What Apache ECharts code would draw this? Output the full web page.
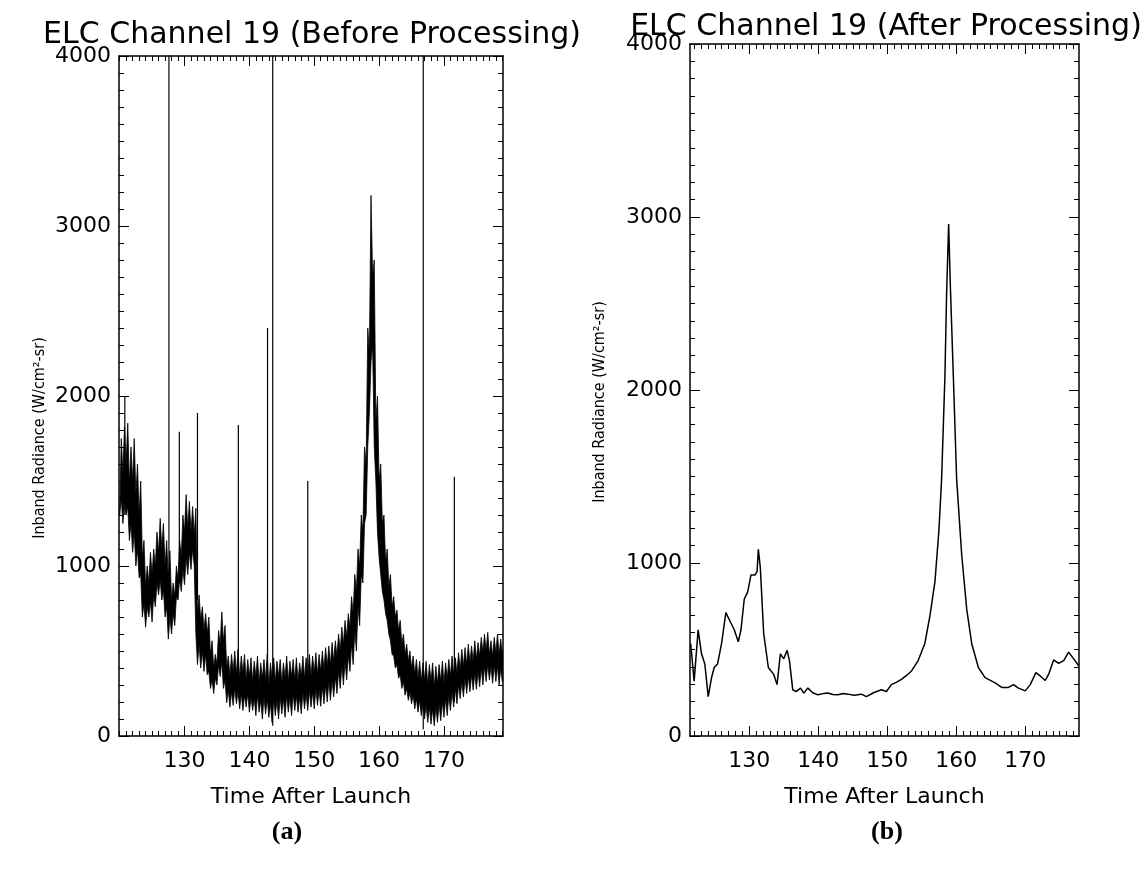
<!DOCTYPE html>
<html><head><meta charset="utf-8">
<script src="https://cdn.jsdelivr.net/npm/echarts@6/dist/echarts.min.js"></script>
<style>html,body{margin:0;padding:0;background:#fff}#c{width:1145px;height:874px}</style>
</head><body><div id="c"></div>
<script>
// ---------- data: (a) before processing ----------
// noise band: outer upper / lower extremes, plus the inner edge between hairs
const envTime = [120.0,120.5,121.0,121.5,122.0,122.5,123.0,123.5,124.0,124.5,125.0,125.5,126.0,126.5,127.0,127.5,128.0,128.5,129.0,129.5,
130.0,130.5,131.0,131.5,132.0,132.5,133.0,133.5,134.0,134.5,135.0,135.5,136.0,136.5,137.0,137.5,138.0,138.5,139.0,139.5,
140.0,140.5,141.0,141.5,142.0,142.5,143.0,143.5,144.0,144.5,145.0,145.5,146.0,146.5,147.0,147.5,148.0,148.5,149.0,149.5,
150.0,150.5,151.0,151.5,152.0,152.5,153.0,153.5,154.0,154.5,155.0,155.5,156.0,156.5,157.0,157.5,158.0,158.5,159.0,159.5,
160.0,160.5,161.0,161.5,162.0,162.5,163.0,163.5,164.0,164.5,165.0,165.5,166.0,166.5,167.0,167.5,168.0,168.5,169.0,169.5,
170.0,170.5,171.0,171.5,172.0,172.5,173.0,173.5,174.0,174.5,175.0,175.5,176.0,176.5,177.0,177.5,178.0,178.5,179.0];
const envHigh = [1750,1820,1840,1700,1750,1600,1500,1150,1000,1080,1100,1200,1280,1250,1150,1090,900,1000,1150,1300,
1420,1380,1350,1340,830,760,720,700,560,480,620,730,650,470,480,500,510,470,480,450,
460,440,470,430,450,480,430,460,440,450,430,470,440,450,460,430,470,460,480,470,
490,480,500,520,530,550,560,600,640,680,720,820,950,1100,1300,1700,2400,3180,2800,2000,
1600,1300,1100,950,820,740,680,600,540,500,470,450,440,430,440,420,430,410,420,440,
430,450,470,460,490,510,520,540,530,560,550,580,600,610,560,580,600,570,560];
const envHighDip = [1550,1600,1480,1500,1420,1300,1050,880,900,950,1000,1080,1100,1000,920,800,820,920,1050,1200,
1220,1200,1180,720,680,620,600,480,400,420,540,560,400,350,380,360,340,370,330,350,
320,350,310,340,330,300,340,320,350,310,340,320,350,330,320,350,340,360,350,370,
360,380,390,410,420,440,470,500,540,580,640,720,850,1000,1200,1600,2250,2700,1850,1500,
1250,1020,880,760,700,620,540,480,440,400,360,340,320,330,300,320,290,310,320,310,
340,350,360,370,390,410,420,430,440,450,470,490,500,480,470,490,480,470,460];
const envLow = [1300,1250,1300,1150,1080,1000,930,700,640,700,670,760,830,800,700,570,600,650,800,850,
890,950,980,1000,420,400,380,360,280,250,300,350,280,195,170,180,190,160,150,170,
140,150,120,140,100,130,110,80,120,100,130,110,140,120,150,140,130,160,150,170,
160,180,175,190,200,210,230,250,280,300,330,380,420,500,650,900,1300,1900,2300,1500,
1050,850,720,600,480,400,340,280,240,210,190,160,140,120,100,80,70,60,80,90,
110,120,150,170,190,220,230,250,260,270,275,290,300,320,330,310,320,300,320];
const envLowBump = [1400,1380,1350,1250,1200,1100,950,780,760,790,830,900,920,860,760,700,720,820,930,980,
1050,1080,1100,600,540,500,480,380,330,340,420,440,330,270,260,280,260,250,240,250,
230,220,240,210,230,220,190,220,210,230,220,240,230,250,240,230,260,250,270,260,
280,270,290,300,320,330,350,380,410,440,480,540,620,760,950,1250,1700,2200,1700,1200,
950,800,680,560,470,420,360,320,280,260,240,220,210,190,180,170,160,170,190,200,
220,240,260,280,300,320,340,350,360,370,380,400,410,420,410,420,410,400,400];
// isolated spikes: time, level they start from, level they reach
const spikeTime = [120.8,127.6,129.2,132.0,138.3,142.8,143.6,149.0,166.8,171.6];
const spikeBase = [1300,700,900,800,300,200,60,200,40,200];
const spikeTop  = [2000,4100,1790,1900,1830,2400,4100,1500,4100,1525];

// ---------- data: (b) after processing ----------
const afterTime = [121.5,122.0,122.58,123.07,123.55,124.04,124.52,124.91,125.39,125.98,126.6,127.33,127.82,128.4,128.79,129.27,129.76,130.24,130.82,131.12,
131.31,131.6,132.08,132.76,133.54,134.02,134.5,134.99,135.48,135.82,136.3,136.79,137.42,137.9,138.48,139.2,139.94,140.7,141.39,142.1,
142.85,143.6,144.3,145.2,146.24,146.97,148.0,149.15,149.88,150.6,151.3,152.06,152.8,153.52,154.48,155.45,156.18,156.91,157.49,157.88,
158.36,158.6,158.9,159.15,159.58,160.06,160.79,161.52,162.24,163.21,164.18,165.64,166.6,167.58,168.3,169.03,170.0,170.73,171.55,172.18,
172.91,173.39,174.12,174.85,175.58,176.3,177.03,177.76];
const afterRadiance = [535,317,614,475,416,228,337,396,416,535,713,653,614,545,614,792,832,931,931,950,
1079,970,594,396,356,297,475,446,495,436,267,257,277,248,277,250,238,245,248,240,
238,246,242,236,242,228,250,267,257,297,310,327,350,376,436,535,693,891,1188,1485,
2079,2550,2960,2600,2079,1485,1049,733,535,396,337,307,281,281,297,277,261,297,366,347,
321,356,440,420,436,485,446,406];

// ---------- axes / text ----------
const xTickLabels = [130,140,150,160,170];
const yTickLabels = [0,1000,2000,3000,4000];
const titles = ['ELC Channel 19 (Before Processing)','ELC Channel 19 (After Processing)'];
const panelLabels = ['(a)','(b)'];
const xName = 'Time After Launch';
const yName = 'Inband Radiance (W/cm²-sr)';

const FONT = "'DejaVu Sans', sans-serif";
const minorX = [];
for (let v = 119; v <= 180; v++) minorX.push(v);
const afterData = afterTime.map((t, i) => [t, afterRadiance[i]]);

const grids = [
  {left: 119, top: 56, width: 384, height: 680, xmin: 119.9, xmax: 179.1},
  {left: 690, top: 44, width: 389, height: 692, xmin: 121.4, xmax: 177.8}
];
const axLine = {show: true, lineStyle: {color: '#000', width: 1.5}};
const xAxes = [], yAxes = [];
grids.forEach((g, gi) => {
  ['bottom', 'top'].forEach(pos => {
    xAxes.push({type: 'value', gridIndex: gi, position: pos, min: g.xmin, max: g.xmax,
      axisLine: axLine, splitLine: {show: false},
      axisTick: {show: true, inside: true, length: 10, customValues: xTickLabels, lineStyle: {color: '#000', width: 1}},
      axisLabel: pos === 'bottom' ? {show: true, customValues: xTickLabels, fontFamily: FONT, fontSize: 22, color: '#000', margin: 14} : {show: false},
      name: pos === 'bottom' ? xName : '', nameLocation: 'middle', nameGap: 50,
      nameTextStyle: {fontFamily: FONT, fontSize: 22, color: '#000'}});
    xAxes.push({type: 'value', gridIndex: gi, position: pos, min: g.xmin, max: g.xmax,
      axisLine: {show: false}, splitLine: {show: false}, axisLabel: {show: false},
      axisTick: {show: true, inside: true, length: 5, customValues: minorX, lineStyle: {color: '#000', width: 1}}});
  });
  ['left', 'right'].forEach(pos => {
    yAxes.push({type: 'value', gridIndex: gi, position: pos, min: 0, max: 4000, interval: 1000,
      axisLine: axLine, splitLine: {show: false},
      axisTick: {show: true, inside: true, length: 10, lineStyle: {color: '#000', width: 1}},
      minorTick: {show: true, splitNumber: 10, length: 5, lineStyle: {color: '#000', width: 1}},
      axisLabel: pos === 'left' ? {show: true, fontFamily: FONT, fontSize: 22, color: '#000', margin: 8,
        formatter: v => String(v)} : {show: false}});
  });
});

const series = [];
// noise band: upper edge alternates outer extreme / inner edge, lower edge likewise
series.push({type: 'custom', xAxisIndex: 0, yAxisIndex: 0, data: [[envTime[0], envLow[0]]], clip: true,
  animation: false, silent: true,
  renderItem: (params, api) => {
    const n = envTime.length;
    const pts = [];
    for (let i = 0; i < n; i++) {
      pts.push(api.coord([envTime[i] + 0.25, envHigh[i]]));
      if (i < n - 1) pts.push(api.coord([envTime[i] + 0.5, envHighDip[i]]));
    }
    for (let i = n - 1; i >= 0; i--) {
      if (i < n - 1) pts.push(api.coord([envTime[i] + 0.25, envLowBump[i]]));
      pts.push(api.coord([envTime[i], envLow[i]]));
    }
    return {type: 'polygon', shape: {points: pts}, style: {fill: '#000', stroke: '#000', lineWidth: 0.8}};
  }});
spikeTime.forEach((t, i) => {
  series.push({type: 'line', xAxisIndex: 0, yAxisIndex: 0, data: [[t, spikeBase[i]], [t, spikeTop[i]]],
    symbol: 'none', lineStyle: {color: '#000', width: 1.2}, animation: false, silent: true, clip: true});
});
series.push({type: 'line', xAxisIndex: 4, yAxisIndex: 2, data: afterData, symbol: 'none',
  lineStyle: {color: '#000', width: 1.5}, animation: false, silent: true});

const chart = echarts.init(document.getElementById('c'), null, {renderer: 'canvas'});
chart.setOption({
  backgroundColor: '#fff',
  animation: false,
  title: [
    {text: titles[0], left: 307, top: 15, textAlign: 'center', textStyle: {fontFamily: FONT, fontWeight: 'normal', fontSize: 30, color: '#000'}},
    {text: titles[1], left: 881, top: 7, textAlign: 'center', textStyle: {fontFamily: FONT, fontWeight: 'normal', fontSize: 30, color: '#000'}},
    {text: panelLabels[0], left: 282, top: 814, textAlign: 'center', textStyle: {fontFamily: "'Liberation Serif', serif", fontWeight: 'bold', fontSize: 26, color: '#000'}},
    {text: panelLabels[1], left: 882, top: 814, textAlign: 'center', textStyle: {fontFamily: "'Liberation Serif', serif", fontWeight: 'bold', fontSize: 26, color: '#000'}}
  ],
  graphic: [
    {type: 'text', x: 40, y: 438, rotation: Math.PI / 2, style: {text: yName, fill: '#000',
      font: "16px 'Liberation Sans Narrow', 'DejaVu Sans Condensed', sans-serif", textAlign: 'center', textVerticalAlign: 'middle'}},
    {type: 'text', x: 600, y: 402, rotation: Math.PI / 2, style: {text: yName, fill: '#000',
      font: "16px 'Liberation Sans Narrow', 'DejaVu Sans Condensed', sans-serif", textAlign: 'center', textVerticalAlign: 'middle'}}
  ],
  grid: grids.map(g => ({left: g.left, top: g.top, width: g.width, height: g.height})),
  xAxis: xAxes,
  yAxis: yAxes,
  series: series
});
</script></body></html>
